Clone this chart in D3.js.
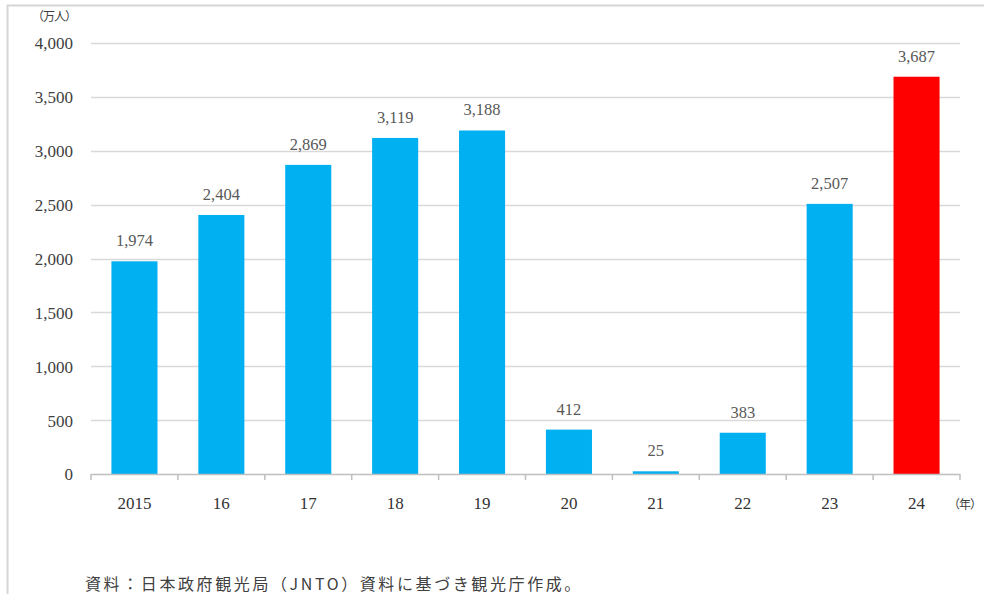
<!DOCTYPE html>
<html><head><meta charset="utf-8">
<script src="https://cdn.jsdelivr.net/npm/d3@7"></script>
<style>body{margin:0;background:#fff}svg{display:block}</style>
</head><body>
<svg id="c" width="984" height="594"></svg>
<script>
const categories = ["2015","16","17","18","19","20","21","22","23","24"];
const values = [1974,2404,2869,3119,3188,412,25,383,2507,3687];
const yTicks = [0,500,1000,1500,2000,2500,3000,3500,4000];
const unitLabel = "（万人）";
const yearLabel = "（年）";
const source = "資料：日本政府観光局（JNTO）資料に基づき観光庁作成。";

const svg = d3.select("#c");
const serif = "'Liberation Serif','DejaVu Serif',serif";
const cjk = "'Noto Sans CJK JP',sans-serif";
const m = {l:91, r:24, t:43, b:120};
const W = 984, H = 594;
const x = d3.scaleBand().domain(categories).range([m.l, W - m.r]).paddingInner(0.47).paddingOuter(0.235);
const y = d3.scaleLinear().domain([0,4000]).range([474, 43]);

// frame
svg.append("path").attr("d", `M7.5,${H} V5.5 H${W}`).attr("fill","none").attr("stroke","#d6d6d6").attr("stroke-width",2);

// grid
svg.append("g").selectAll("line").data(yTicks.filter(d=>d>0)).join("line")
  .attr("x1", m.l).attr("x2", W - m.r)
  .attr("y1", d=>Math.round(y(d))+0.5).attr("y2", d=>Math.round(y(d))+0.5)
  .attr("stroke","#d9d9d9").attr("stroke-width",1.5);

// y axis labels
const ya = svg.append("g").attr("transform",`translate(76,0)`)
  .call(d3.axisLeft(y).tickValues(yTicks).tickSize(0).tickFormat(d3.format(",")));
ya.select(".domain").remove();
ya.selectAll("text").attr("font-family", serif).attr("font-size", 17).attr("fill","#404040").attr("dy","0.35em");

// bars
svg.append("g").selectAll("rect").data(values).join("rect")
  .attr("x",(d,i)=>x(categories[i])).attr("width", x.bandwidth())
  .attr("y", d=>y(d)).attr("height", d=>y(0)-y(d))
  .attr("fill",(d,i)=> i===values.length-1 ? "#ff0000" : "#00b0f0");

// value labels
svg.append("g").selectAll("text").data(values).join("text")
  .attr("x",(d,i)=>x(categories[i]) + x.bandwidth()/2)
  .attr("y", d=>y(d)-15)
  .attr("text-anchor","middle").attr("font-family", serif).attr("font-size",16.5).attr("fill","#595959")
  .text(d=>d3.format(",")(d));

// x axis
const xa = svg.append("g").attr("transform",`translate(0,${y(0)})`);
xa.append("line").attr("x1",m.l).attr("x2",W-m.r).attr("y1",0.5).attr("y2",0.5).attr("stroke","#bfbfbf").attr("stroke-width",1.5);
const bounds = d3.range(categories.length+1).map(i => m.l + i*(W-m.r-m.l)/categories.length);
xa.selectAll("line.t").data(bounds).join("line").attr("class","t")
  .attr("x1",d=>d).attr("x2",d=>d).attr("y1",0).attr("y2",6).attr("stroke","#bfbfbf").attr("stroke-width",1.5);
xa.selectAll("text").data(categories).join("text")
  .attr("x",d=>x(d)+x.bandwidth()/2).attr("y",35)
  .attr("text-anchor","middle").attr("font-family", serif).attr("font-size",17).attr("fill","#333")
  .text(d=>d);

svg.append("text").attr("x",948).attr("y",509).attr("font-family",cjk).attr("font-size",12).attr("letter-spacing",-1).attr("fill","#404040").text(yearLabel);
svg.append("text").attr("x",32).attr("y",21).attr("font-family",cjk).attr("font-size",12).attr("letter-spacing",-1).attr("fill","#404040").text(unitLabel);
svg.append("text").attr("x",85).attr("y",590).attr("font-family",cjk).attr("font-size",16).attr("letter-spacing",2.6).attr("fill","#404040").text(source);
</script>
</body></html>
